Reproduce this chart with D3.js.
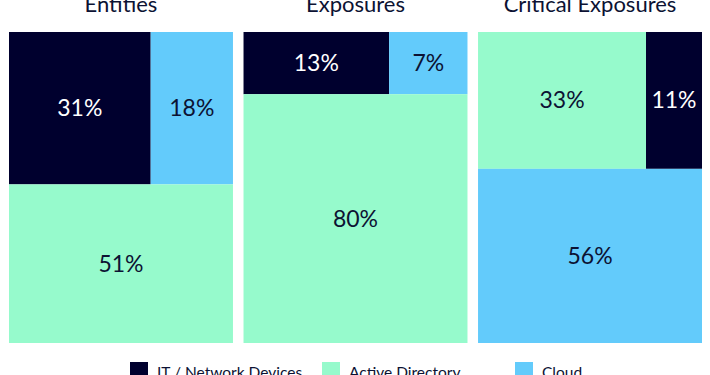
<!DOCTYPE html>
<html>
<head>
<meta charset="utf-8">
<script src="https://cdn.jsdelivr.net/npm/d3@7"></script>
<style>
  body { margin: 0; background: #fff; }
  text { font-family: Lato, "Open Sans", sans-serif; }
</style>
</head>
<body>
<div id="chart-area"></div>
<script>
const svgWidth = 710;
const svgHeight = 375;

// data
var panels = ["Entities", "Exposures", "Critical Exposures"];
var categories = ["IT / Network Devices", "Active Directory", "Cloud"];
var itShare    = [31, 13, 11];
var adShare    = [51, 80, 33];
var cloudShare = [18, 7, 56];

var colors = { "IT / Network Devices": "#00002e", "Active Directory": "#96facc", "Cloud": "#63cbfb" };
var textColors = { "IT / Network Devices": "#ffffff", "Active Directory": "#0c1233", "Cloud": "#0c1233" };

var margin = {left: 9, right: 8, top: 32, bottom: 32};
var chartWidth = svgWidth - margin.left - margin.right,
    chartHeight = svgHeight - margin.top - margin.bottom;

var svg = d3.select("#chart-area")
    .append("svg")
        .attr("width", svgWidth)
        .attr("height", svgHeight)
    .append("g")
    .attr("transform", "translate(" + margin.left + "," + margin.top + ")");

// one band per panel
var xPanel = d3.scaleBand()
    .domain(panels)
    .range([0, chartWidth])
    .paddingInner(0.045);

panels.forEach(function(p, i) {
    var items = categories.map(function(c, j) {
        return { cat: c, value: [itShare, adShare, cloudShare][j][i] };
    });
    items.sort(function(a, b) { return b.value - a.value; });
    var big = items[0];
    var top = items.slice(1);
    var topTotal = top[0].value + top[1].value;

    var x0 = xPanel(p), w = xPanel.bandwidth();
    var y = d3.scaleLinear().domain([0, 100]).range([0, chartHeight]);
    var xTop = d3.scaleLinear().domain([0, topTotal]).range([x0, x0 + w]);

    var cells = [
        { cat: top[0].cat, value: top[0].value, x: xTop(0), y: 0, w: xTop(top[0].value) - xTop(0), h: y(topTotal) },
        { cat: top[1].cat, value: top[1].value, x: xTop(top[0].value), y: 0, w: xTop(topTotal) - xTop(top[0].value), h: y(topTotal) },
        { cat: big.cat, value: big.value, x: x0, y: y(topTotal), w: w, h: y(100) - y(topTotal) }
    ];

    var g = svg.append("g").attr("class", "panel");

    g.selectAll("rect")
        .data(cells)
        .enter().append("rect")
        .attr("x", function(d) { return d.x; })
        .attr("y", function(d) { return d.y; })
        .attr("width", function(d) { return d.w; })
        .attr("height", function(d) { return d.h; })
        .attr("fill", function(d) { return colors[d.cat]; });

    g.selectAll("text.val")
        .data(cells)
        .enter().append("text")
        .attr("class", "val")
        .attr("x", function(d) { return d.x + d.w / 2; })
        .attr("y", function(d) { return d.y + d.h / 2; })
        .attr("dy", "0.35em")
        .attr("text-anchor", "middle")
        .attr("font-size", "23px")
        .attr("fill", function(d) { return textColors[d.cat]; })
        .text(function(d) { return d.value + "%"; });

    // panel title (cut off at the top, as in the source image)
    svg.append("text")
        .attr("x", x0 + w / 2)
        .attr("y", -20)
        .attr("text-anchor", "middle")
        .attr("font-size", "22px")
        .attr("fill", "#0c1233")
        .text(p);
});

// legend
var legendX = [121, 313, 506];
var legend = svg.selectAll("g.legend")
    .data(categories)
    .enter().append("g")
    .attr("class", "legend")
    .attr("transform", function(d, i) { return "translate(" + legendX[i] + "," + (chartHeight + 19) + ")"; });

legend.append("rect")
    .attr("width", 18)
    .attr("height", 18)
    .attr("fill", function(d) { return colors[d]; });

legend.append("text")
    .attr("x", 27)
    .attr("y", 16)
    .attr("font-size", "15.5px")
    .attr("fill", "#0c1233")
    .text(function(d) { return d; });
</script>
</body>
</html>
